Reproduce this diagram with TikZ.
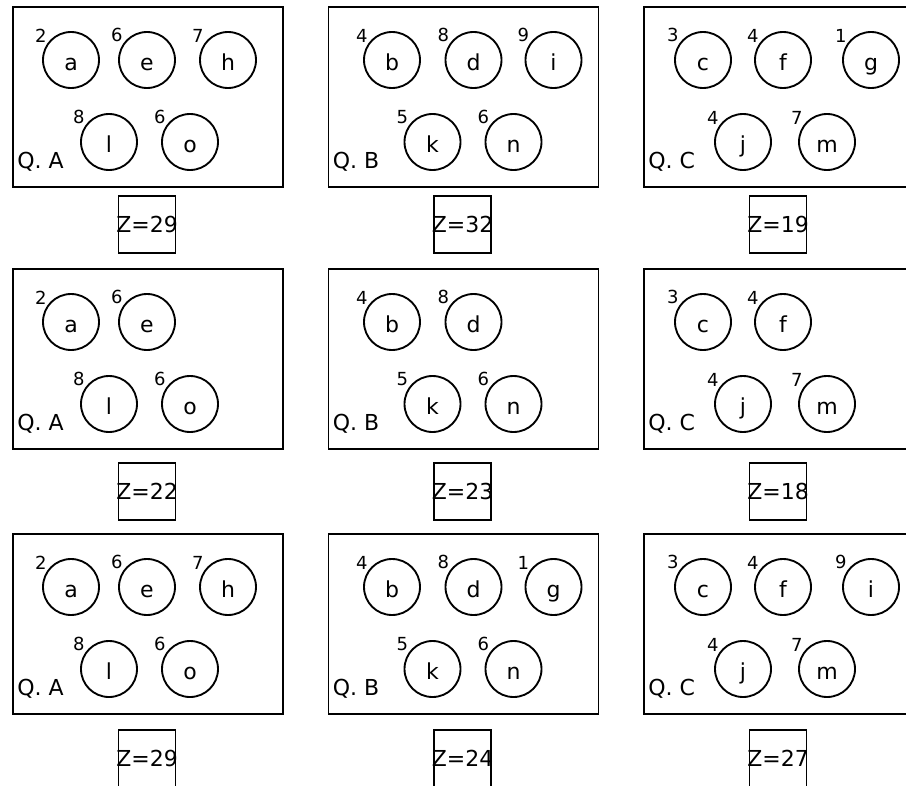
\documentclass[tikz,border=0pt]{standalone}
\usepackage{fontspec}
\setmainfont{DejaVu Sans}
\usepackage{tikz}

\begin{document}
\begin{tikzpicture}[
  x=0.75pt, y=-0.75pt,
  font=\fontsize{16.5}{19}\selectfont,
  panel/.style={draw, line width=1.4pt, anchor=north west, inner sep=0pt,
    minimum width=202.5pt, minimum height=135pt},
  ball/.style={draw, circle, line width=1.4pt, inner sep=0pt, minimum size=42pt,
    text height=15pt, text depth=0pt},
  num/.style={inner sep=0.5pt, font=\fontsize{13.5}{16}\selectfont},
  total/.style={draw, line width=1.4pt, anchor=north, inner sep=0pt, minimum size=42.75pt},
  tag/.style={anchor=base west, inner sep=0pt}
]
\useasboundingbox (0,0) rectangle (906,785);

% row 1
\begin{scope}[shift={(12,6)}]
\node[panel] (boxA1) at (0,0) {};
\node[ball, label={[num]144:2}] (a1) at (59,54) {a};
\node[ball, label={[num]144:6}] (e1) at (135,54) {e};
\node[ball, label={[num]144:7}] (h1) at (216,54) {h};
\node[ball, label={[num]144:8}] (l1) at (97,136) {l};
\node[ball, label={[num]144:6}] (o1) at (178,136) {o};
\node[tag] (tagA1) at (5,162) {Q. A};
\node[total] (zA1) at (135,189) {\makebox[42.75pt]{Z=29}};
\end{scope}
\begin{scope}[shift={(327.5,6)}]
\node[panel] (boxB1) at (0,0) {};
\node[ball, label={[num]144:4}] (b1) at (64.5,54) {b};
\node[ball, label={[num]144:8}] (d1) at (146,54) {d};
\node[ball, label={[num]144:9}] (i1) at (226,54) {i};
\node[ball, label={[num]144:5}] (k1) at (105,136) {k};
\node[ball, label={[num]144:6}] (n1) at (186,136) {n};
\node[tag] (tagB1) at (5,162) {Q. B};
\node[total] (zB1) at (135,189) {\makebox[42.75pt]{Z=32}};
\end{scope}
\begin{scope}[shift={(643,6)}]
\node[panel] (boxC1) at (0,0) {};
\node[ball, label={[num]144:3}] (c1) at (60,54) {c};
\node[ball, label={[num]144:4}] (f1) at (140,54) {f};
\node[ball, label={[num]144:1}] (g1) at (228,54) {g};
\node[ball, label={[num]144:4}] (j1) at (100,136) {j};
\node[ball, label={[num]144:7}] (m1) at (184,136) {m};
\node[tag] (tagC1) at (5,162) {Q. C};
\node[total] (zC1) at (135,189) {\makebox[42.75pt]{Z=19}};
\end{scope}

% row 2
\begin{scope}[shift={(12,268)}]
\node[panel] (boxA2) at (0,0) {};
\node[ball, label={[num]144:2}] (a2) at (59,54) {a};
\node[ball, label={[num]144:6}] (e2) at (135,54) {e};
\node[ball, label={[num]144:8}] (l2) at (97,136) {l};
\node[ball, label={[num]144:6}] (o2) at (178,136) {o};
\node[tag] (tagA2) at (5,162) {Q. A};
\node[total] (zA2) at (135,194) {\makebox[42.75pt]{Z=22}};
\end{scope}
\begin{scope}[shift={(327.5,268)}]
\node[panel] (boxB2) at (0,0) {};
\node[ball, label={[num]144:4}] (b2) at (64.5,54) {b};
\node[ball, label={[num]144:8}] (d2) at (146,54) {d};
\node[ball, label={[num]144:5}] (k2) at (105,136) {k};
\node[ball, label={[num]144:6}] (n2) at (186,136) {n};
\node[tag] (tagB2) at (5,162) {Q. B};
\node[total] (zB2) at (135,194) {\makebox[42.75pt]{Z=23}};
\end{scope}
\begin{scope}[shift={(643,268)}]
\node[panel] (boxC2) at (0,0) {};
\node[ball, label={[num]144:3}] (c2) at (60,54) {c};
\node[ball, label={[num]144:4}] (f2) at (140,54) {f};
\node[ball, label={[num]144:4}] (j2) at (100,136) {j};
\node[ball, label={[num]144:7}] (m2) at (184,136) {m};
\node[tag] (tagC2) at (5,162) {Q. C};
\node[total] (zC2) at (135,194) {\makebox[42.75pt]{Z=18}};
\end{scope}

% row 3
\begin{scope}[shift={(12,533)}]
\node[panel] (boxA3) at (0,0) {};
\node[ball, label={[num]144:2}] (a3) at (59,54) {a};
\node[ball, label={[num]144:6}] (e3) at (135,54) {e};
\node[ball, label={[num]144:7}] (h3) at (216,54) {h};
\node[ball, label={[num]144:8}] (l3) at (97,136) {l};
\node[ball, label={[num]144:6}] (o3) at (178,136) {o};
\node[tag] (tagA3) at (5,162) {Q. A};
\node[total] (zA3) at (135,196) {\makebox[42.75pt]{Z=29}};
\end{scope}
\begin{scope}[shift={(327.5,533)}]
\node[panel] (boxB3) at (0,0) {};
\node[ball, label={[num]144:4}] (b3) at (64.5,54) {b};
\node[ball, label={[num]144:8}] (d3) at (146,54) {d};
\node[ball, label={[num]144:1}] (g3) at (226,54) {g};
\node[ball, label={[num]144:5}] (k3) at (105,136) {k};
\node[ball, label={[num]144:6}] (n3) at (186,136) {n};
\node[tag] (tagB3) at (5,162) {Q. B};
\node[total] (zB3) at (135,196) {\makebox[42.75pt]{Z=24}};
\end{scope}
\begin{scope}[shift={(643,533)}]
\node[panel] (boxC3) at (0,0) {};
\node[ball, label={[num]144:3}] (c3) at (60,54) {c};
\node[ball, label={[num]144:4}] (f3) at (140,54) {f};
\node[ball, label={[num]144:9}] (i3) at (228,54) {i};
\node[ball, label={[num]144:4}] (j3) at (100,136) {j};
\node[ball, label={[num]144:7}] (m3) at (184,136) {m};
\node[tag] (tagC3) at (5,162) {Q. C};
\node[total] (zC3) at (135,196) {\makebox[42.75pt]{Z=27}};
\end{scope}
\end{tikzpicture}
\end{document}
